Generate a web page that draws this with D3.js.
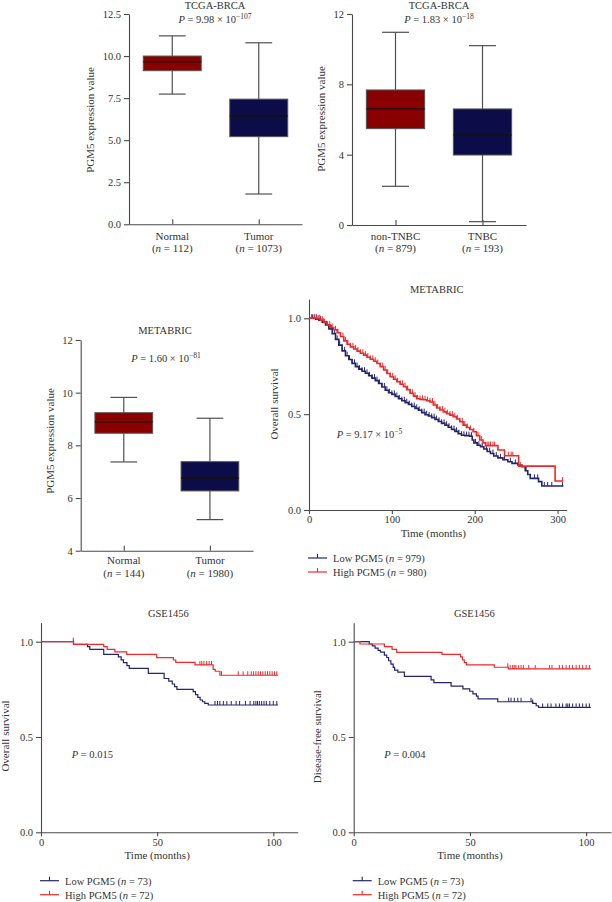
<!DOCTYPE html>
<html><head><meta charset="utf-8">
<script src="https://cdn.jsdelivr.net/npm/d3@7/dist/d3.min.js"></script>
<style>
body{margin:0;background:#fff}
svg{display:block}
text{font-family:"Liberation Serif","Times New Roman",serif;fill:#333}
</style>
</head><body>
<svg id="c" width="612" height="902"></svg>
<script>
// ---------- DATA ----------
// Panel A: TCGA-BRCA normal vs tumor
const tcgaGroups = ["Normal", "Tumor"];
const tcgaN = [112, 1073];
const tcgaMin = [7.74, 1.80];
const tcgaQ1 = [9.13, 5.21];
const tcgaMed = [9.66, 6.43];
const tcgaQ3 = [10.0, 7.44];
const tcgaMax = [11.2, 10.79];
const tcgaTicks = [0, 2.5, 5, 7.5, 10, 12.5];

// Panel B: TCGA-BRCA non-TNBC vs TNBC
const tnbcGroups = ["non-TNBC", "TNBC"];
const tnbcN = [879, 193];
const tnbcMin = [2.2, 0.19];
const tnbcQ1 = [5.48, 3.98];
const tnbcMed = [6.6, 5.12];
const tnbcQ3 = [7.68, 6.6];
const tnbcMax = [10.96, 10.2];
const tnbcTicks = [0, 4, 8, 12];

// Panel C: METABRIC normal vs tumor
const metaGroups = ["Normal", "Tumor"];
const metaN = [144, 1980];
const metaMin = [7.37, 5.18];
const metaQ1 = [8.46, 6.27];
const metaMed = [8.89, 6.75];
const metaQ3 = [9.24, 7.38];
const metaMax = [9.82, 9.03];
const metaTicks = [4, 6, 8, 10, 12];

// Panel D: METABRIC overall survival
const metaLowT = [0,8,12,16,20,24,28,32,36,40,44,48,52,56,60,64,68,72,76,80,84,88,92,96,100,104,108,112,116,120,124,128,132,136,140,144,148,152,156,160,164,168,172,176,180,184,188,194,197,199,203,207,211,215,219,223,228,234,240,245,252,257,261,264,267,277,281,307];
const metaLowS = [1.0,0.995,0.99,0.98,0.965,0.945,0.92,0.89,0.86,0.83,0.805,0.785,0.765,0.748,0.735,0.724,0.713,0.70,0.688,0.675,0.66,0.642,0.625,0.612,0.603,0.592,0.58,0.57,0.56,0.55,0.54,0.53,0.52,0.508,0.497,0.49,0.482,0.472,0.462,0.452,0.442,0.432,0.42,0.41,0.398,0.39,0.388,0.385,0.365,0.35,0.338,0.33,0.318,0.305,0.295,0.282,0.272,0.262,0.252,0.243,0.235,0.226,0.205,0.185,0.165,0.148,0.125,0.125];
const metaHighT = [0,10,14,18,22,26,30,34,38,42,46,50,54,58,62,66,70,74,78,82,86,90,94,98,102,106,110,114,118,122,126,130,134,138,142,146,150,154,158,162,166,170,174,178,182,186,190,194,198,202,206,210,213,228,236,253,297,307];
const metaHighS = [1.0,0.998,0.99,0.977,0.965,0.952,0.94,0.925,0.905,0.882,0.865,0.851,0.84,0.829,0.818,0.808,0.797,0.786,0.776,0.764,0.748,0.73,0.712,0.695,0.682,0.669,0.656,0.643,0.628,0.609,0.594,0.58,0.577,0.575,0.57,0.563,0.548,0.532,0.522,0.512,0.503,0.495,0.487,0.475,0.46,0.443,0.43,0.42,0.408,0.388,0.365,0.35,0.336,0.313,0.283,0.229,0.151,0.151];
const metaLowCens = [4,7,11,14,17,21,24,27,31,34,37,40,43,46,49,52,55,58,61,64,67,70,73,76,79,82,85,88,91,94,97,100,103,106,109,112,115,118,121,124,127,130,133,136,139,142,145,148,151,154,157,160,163,166,169,172,175,178,181,184,187,190,193,196,201,205,209,214,218,222,226,231,236,243,249,262,272,276,284,288,293,306];
const metaHighCens = [3,6,9,13,16,19,22,25,28,32,35,38,41,44,47,50,53,56,59,62,65,68,71,74,77,80,83,86,89,92,95,98,101,104,107,110,113,116,119,122,125,128,131,134,137,140,143,146,149,152,155,158,161,164,167,170,173,176,179,182,185,188,191,195,199,204,208,215,217,219,222,224,241,244,246,255,306];
const metaLegendN = [979, 980];

// Panel E: GSE1456 overall survival
const osLowT = [0,14,20,21,27,33.3,34.5,35.5,37,38,46.2,53,55,56.5,57.5,58.5,65.5,66.5,67.5,68.5,69.5,70.5,72,102];
const osLowS = [1.0,0.986,0.974,0.96,0.934,0.92,0.905,0.89,0.875,0.86,0.834,0.807,0.793,0.778,0.764,0.75,0.738,0.722,0.708,0.694,0.685,0.676,0.668,0.668];
const osHighT = [0,14,27,28.5,31.8,36.9,49.8,57,58,66.3,74.1,75,77,102];
const osHighS = [1.0,0.986,0.974,0.96,0.947,0.934,0.916,0.904,0.892,0.878,0.855,0.845,0.824,0.824];
const osLowCens = [14,74.9,76,77,78.5,80,81.9,84,85.5,88,90,91.6,92.5,93.2,94,95,96,97,98.5,100,101.5];
const osHighCens = [13.9,68.4,69.2,70.1,71.3,72.4,73.4,77.7,84.9,87,89,90.5,91.5,92.5,93.5,94.5,95.5,96.5,97.5,98.5,99.5,100.5,101.5];

// Panel F: GSE1456 disease-free survival
const dfsLowT = [0,6.7,8,9.2,10.5,11.5,13.2,14.2,15,16,17,17.6,19,21.8,33.3,34.5,41.9,47,49.9,51.3,52.8,53.5,62,77,78.5,79.5,102];
const dfsLowS = [1.0,0.988,0.978,0.966,0.954,0.945,0.93,0.917,0.9,0.882,0.865,0.851,0.84,0.818,0.8,0.785,0.767,0.753,0.74,0.726,0.714,0.7,0.685,0.676,0.664,0.655,0.655];
const dfsHighT = [0,2.7,13.2,16.5,18.5,38,46,46.8,47.6,48.5,60.5,66.5,102];
const dfsHighS = [1.0,0.988,0.974,0.96,0.944,0.934,0.92,0.905,0.89,0.878,0.866,0.857,0.857];
const dfsLowCens = [66.7,67.7,69.1,70.6,72,76.3,77,81.3,83.5,84.9,87,88.5,89.9,91.4,92.1,92.8,94.2,95.7,97.1,98.5,100,101.4];
const dfsHighCens = [66.3,67.3,68.4,69.1,69.8,71,72,73,75.3,78.1,84.2,85.3,88.5,89.9,91.4,92.8,94.2,95.7,97.1,98.5,100,101.4];
const gseLegendN = [73, 72];

// ---------- DRAWING ----------
const svg = d3.select("#c");
const AX = "#4a4a4a";
const RED_BOX = "#8a0000", NAVY_BOX = "#0c0c48";
const RED_LINE = "#ee2a2a", NAVY_LINE = "#24246e";

function rich(g, x, y, parts, anchor, size) {
  size = size || 10.5;
  const t = g.append("text").attr("x", x).attr("y", y)
    .attr("text-anchor", anchor || "start").attr("font-size", size);
  parts.forEach(p => {
    const ts = t.append("tspan").text(p.t);
    if (p.i) ts.attr("font-style", "italic");
    if (p.sup) ts.attr("font-size", size * 0.72).attr("dy", -4.5);
  });
  return t;
}
function styleAxis(a) {
  a.selectAll("path,line").attr("stroke", AX).attr("stroke-width", 1.1);
  a.selectAll("text").attr("font-family", "Liberation Serif, serif").attr("font-size", 10.5).attr("fill", "#333");
}
function ylabel(g, bx, cy, txt) {
  g.append("text").attr("transform", `translate(${bx},${cy}) rotate(-90)`)
    .attr("text-anchor", "middle").attr("font-size", 11).text(txt);
}

function boxPanel(o) {
  const g = svg.append("g");
  const x = d3.scalePoint().domain(o.groups).range([o.x0, o.x1]).padding(0.5);
  const y = d3.scaleLinear().domain(o.ydom).range([o.yb, o.yt]);
  const ya = g.append("g").attr("transform", `translate(${o.x0},0)`)
    .call(d3.axisLeft(y).tickValues(o.ticks).tickFormat(o.fmt).tickSize(5).tickPadding(3).tickSizeOuter(0));
  styleAxis(ya);
  const xa = g.append("g").attr("transform", `translate(0,${o.yb})`)
    .call(d3.axisBottom(x).tickSize(-5).tickFormat("").tickSizeOuter(0));
  styleAxis(xa);
  const bw = x.step() * 0.67, cw = x.step() * 0.31;
  o.groups.forEach((gr, i) => {
    const cx = x(gr);
    const wl = g.append("g").attr("stroke", "#505050").attr("stroke-width", 1.2);
    wl.append("line").attr("x1", cx).attr("x2", cx).attr("y1", y(o.max[i])).attr("y2", y(o.q3[i]));
    wl.append("line").attr("x1", cx).attr("x2", cx).attr("y1", y(o.q1[i])).attr("y2", y(o.min[i]));
    wl.append("line").attr("x1", cx - cw / 2).attr("x2", cx + cw / 2).attr("y1", y(o.max[i])).attr("y2", y(o.max[i]));
    wl.append("line").attr("x1", cx - cw / 2).attr("x2", cx + cw / 2).attr("y1", y(o.min[i])).attr("y2", y(o.min[i]));
    g.append("rect").attr("x", cx - bw / 2).attr("width", bw)
      .attr("y", y(o.q3[i])).attr("height", y(o.q1[i]) - y(o.q3[i]))
      .attr("fill", i === 0 ? RED_BOX : NAVY_BOX).attr("stroke", "#555").attr("stroke-width", 1);
    g.append("line").attr("x1", cx - bw / 2).attr("x2", cx + bw / 2)
      .attr("y1", y(o.med[i])).attr("y2", y(o.med[i])).attr("stroke", "#111").attr("stroke-width", 1.3);
    g.append("text").attr("x", cx).attr("y", o.cat1).attr("text-anchor", "middle").attr("font-size", 11).text(gr);
    rich(g, cx, o.cat2, [{t: "("}, {t: "n", i: true}, {t: " = " + o.n[i] + ")"}], "middle", 11);
  });
  g.append("text").attr("x", o.tx).attr("y", o.ty).attr("text-anchor", "middle").attr("font-size", 10.5).text(o.title);
  rich(g, o.px, o.py, o.p, "middle");
  ylabel(g, o.lbx, o.lby, "PGM5 expression value");
}

function kmPanel(o) {
  const g = svg.append("g");
  const x = d3.scaleLinear().domain([0, o.xmax]).range([o.x0, o.x1]);
  const y = d3.scaleLinear().domain([0, 1.1]).range([o.yb, o.yb - 1.1 * o.unit]);
  const ya = g.append("g").attr("transform", `translate(${o.x0},0)`)
    .call(d3.axisLeft(y).tickValues([0, 0.5, 1.0]).tickFormat(d3.format(".1f")).tickSize(5).tickPadding(3).tickSizeOuter(0));
  styleAxis(ya);
  const xa = g.append("g").attr("transform", `translate(0,${o.yb})`)
    .call(d3.axisBottom(x).tickValues(o.xticks).tickFormat(d3.format("d")).tickSize(4).tickPadding(2).tickSizeOuter(0));
  styleAxis(xa);
  const line = d3.line().x(d => x(d[0])).y(d => y(d[1])).curve(d3.curveStepAfter);
  const series = [
    {T: o.lowT, S: o.lowS, C: o.lowC, col: NAVY_LINE},
    {T: o.highT, S: o.highS, C: o.highC, col: RED_LINE}
  ];
  series.forEach(s => {
    const pts = s.T.map((t, i) => [t, s.S[i]]);
    g.append("path").attr("d", line(pts)).attr("fill", "none").attr("stroke", s.col).attr("stroke-width", o.sw);
    s.C.forEach(ct => {
      let sv = s.S[0];
      s.T.forEach((t, i) => { if (t <= ct) sv = s.S[i]; });
      g.append("line").attr("x1", x(ct)).attr("x2", x(ct)).attr("y1", y(sv)).attr("y2", y(sv) - 4)
        .attr("stroke", s.col).attr("stroke-width", 1);
    });
  });
  g.append("text").attr("x", o.tx).attr("y", o.ty).attr("text-anchor", "middle").attr("font-size", 10.5).text(o.title);
  rich(g, o.px, o.py, o.p, "start");
  g.append("text").attr("x", x(o.xlabAt)).attr("y", o.yb + 27).attr("text-anchor", "middle").attr("font-size", 11).text("Time (months)");
  ylabel(g, o.lbx, o.lby, o.ylab);
  // legend
  const labs = [["Low PGM5", o.legN[0], NAVY_LINE], ["High PGM5", o.legN[1], RED_LINE]];
  labs.forEach((l, i) => {
    const ly = o.legY + i * 14;
    const lx = o.x0 - 1;
    g.append("line").attr("x1", lx).attr("x2", lx + 19).attr("y1", ly).attr("y2", ly).attr("stroke", l[2]).attr("stroke-width", 1.2);
    g.append("line").attr("x1", lx + 9.5).attr("x2", lx + 9.5).attr("y1", ly).attr("y2", ly - 4).attr("stroke", l[2]).attr("stroke-width", 1.1);
    rich(g, lx + 25, ly + 3.8, [{t: l[0] + " ("}, {t: "n", i: true}, {t: " = " + l[1] + ")"}], "start", 10.5);
  });
}

// Panel A
boxPanel({groups: tcgaGroups, n: tcgaN, min: tcgaMin, q1: tcgaQ1, med: tcgaMed, q3: tcgaQ3, max: tcgaMax,
  ticks: tcgaTicks, fmt: d3.format(".1f"), ydom: [0, 12.5], x0: 129, x1: 302, yb: 224.3, yt: 14,
  title: "TCGA-BRCA", tx: 215, ty: 9, px: 215, py: 23,
  p: [{t: "P", i: true}, {t: " = 9.98 × 10"}, {t: "−107", sup: true}],
  cat1: 240, cat2: 251.5, lbx: 93.5, lby: 120});
// Panel B
boxPanel({groups: tnbcGroups, n: tnbcN, min: tnbcMin, q1: tnbcQ1, med: tnbcMed, q3: tnbcQ3, max: tnbcMax,
  ticks: tnbcTicks, fmt: d3.format("d"), ydom: [0, 12], x0: 352, x1: 526, yb: 225, yt: 14,
  title: "TCGA-BRCA", tx: 439, ty: 9, px: 439, py: 23,
  p: [{t: "P", i: true}, {t: " = 1.83 × 10"}, {t: "−18", sup: true}],
  cat1: 240, cat2: 251.5, lbx: 325, lby: 119});
// Panel C
boxPanel({groups: metaGroups, n: metaN, min: metaMin, q1: metaQ1, med: metaMed, q3: metaQ3, max: metaMax,
  ticks: metaTicks, fmt: d3.format("d"), ydom: [4, 12], x0: 80.7, x1: 253, yb: 550.7, yt: 340,
  title: "METABRIC", tx: 165, ty: 334, px: 166, py: 362,
  p: [{t: "P", i: true}, {t: " = 1.60 × 10"}, {t: "−81", sup: true}],
  cat1: 564, cat2: 576.5, lbx: 53.5, lby: 441});
// Panel D
kmPanel({xmax: 311, x0: 309, x1: 566.7, yb: 510, unit: 191.7, xticks: [0, 100, 200, 300], xlabAt: 150, sw: 1.6,
  lowT: metaLowT, lowS: metaLowS, lowC: metaLowCens, highT: metaHighT, highS: metaHighS, highC: metaHighCens,
  title: "METABRIC", tx: 436.7, ty: 293, px: 336.7, py: 438,
  p: [{t: "P", i: true}, {t: " = 9.17 × 10"}, {t: "−5", sup: true}],
  lbx: 278, lby: 404, ylab: "Overall survival", legN: metaLegendN, legY: 558});
// Panel E
kmPanel({xmax: 110.5, x0: 41, x1: 297.7, yb: 832.3, unit: 190.6, xticks: [0, 50, 100], xlabAt: 50, sw: 1.2,
  lowT: osLowT, lowS: osLowS, lowC: osLowCens, highT: osHighT, highS: osHighS, highC: osHighCens,
  title: "GSE1456", tx: 168.3, ty: 616.7, px: 71.7, py: 757.5,
  p: [{t: "P", i: true}, {t: " = 0.015"}],
  lbx: 8.7, lby: 736, ylab: "Overall survival", legN: gseLegendN, legY: 880.7});
// Panel F
kmPanel({xmax: 110.7, x0: 353.7, x1: 611, yb: 832.3, unit: 190.6, xticks: [0, 50, 100], xlabAt: 50, sw: 1.2,
  lowT: dfsLowT, lowS: dfsLowS, lowC: dfsLowCens, highT: dfsHighT, highS: dfsHighS, highC: dfsHighCens,
  title: "GSE1456", tx: 474.3, ty: 616.7, px: 384.3, py: 757.5,
  p: [{t: "P", i: true}, {t: " = 0.004"}],
  lbx: 321, lby: 736.7, ylab: "Disease-free survival", legN: gseLegendN, legY: 880.7});
</script>
</body></html>
